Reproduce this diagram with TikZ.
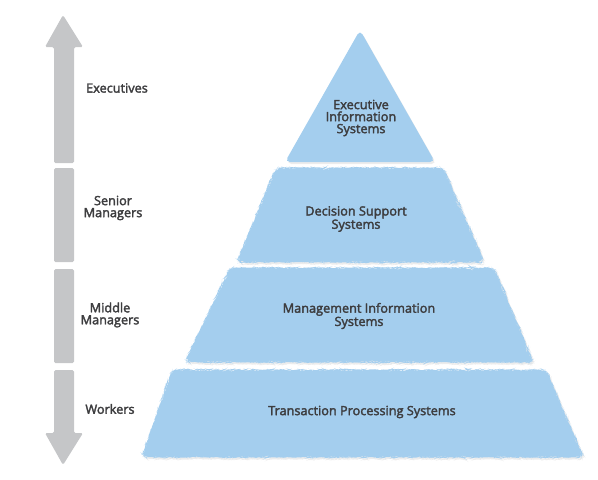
\documentclass[tikz,border=0pt]{standalone}
\usepackage{fontspec}
\setmainfont{Open Sans}
\newfontfamily\lblfont[FakeBold=2.5]{Open Sans}
\usepackage{tikz}
\usetikzlibrary{decorations.pathmorphing,shadows}
\definecolor{layerblue}{HTML}{A4CEEE}
\definecolor{arrowgray}{HTML}{C5C6C8}
\definecolor{textgray}{HTML}{3D3D3F}

\begin{document}
\begin{tikzpicture}[x=1pt,y=-1pt,
  layer/.style={fill=layerblue,rounded corners=5pt,
    drop shadow={shadow xshift=1.5pt,shadow yshift=-2pt,fill=black!12,opacity=0.6}},
  rough/.style={decorate,decoration={random steps,segment length=1.6pt,amplitude=0.45pt}},
  bar/.style={fill=arrowgray,rounded corners=1.5pt},
  lbl/.style={text=textgray,font=\lblfont\fontsize{12.7}{12}\selectfont,align=center,inner sep=0pt}]
  \useasboundingbox (0,0) rectangle (598,480);
  % level arrow (four pieces)
  \fill[bar] (63,15) -- (83,47) -- (74,47) -- (74,163) -- (54,163) -- (54,47) -- (45,47) -- cycle;
  \fill[bar] (54,168) rectangle (74,262);
  \fill[bar] (54,269) rectangle (74,363);
  \fill[bar] (54,370) -- (74,370) -- (74,433) -- (83,433) -- (63,465) -- (45,433) -- (54,433) -- cycle;
  % level labels
  \node[lbl] (exec) at (117,88) {Executives};
  \node[lbl] (senior) at (113,208) {Senior\\Managers};
  \node[lbl] (middle) at (110,315) {Middle\\Managers};
  \node[lbl] (workers) at (110,409) {Workers};
  % pyramid layers
  \fill[layer] (360,30) -- (435,162) -- (285,162) -- cycle;
  \fill[layer,rough] (276,168) -- (443,168) -- (484,262) -- (237,262) -- cycle;
  \fill[layer,rough] (230,268) -- (494,268) -- (533,362) -- (185,362) -- cycle;
  \fill[layer,rough] (172,370) -- (546,370) -- (583,457) -- (142,457) -- cycle;
  % system labels
  \node[lbl] (eis) at (361,118) {Executive\\Information\\Systems};
  \node[lbl] (dss) at (356,219) {Decision Support\\Systems};
  \node[lbl] (mis) at (359,316) {Management Information\\Systems};
  \node[lbl] (tps) at (362,412) {Transaction Processing Systems};
\end{tikzpicture}
\end{document}
